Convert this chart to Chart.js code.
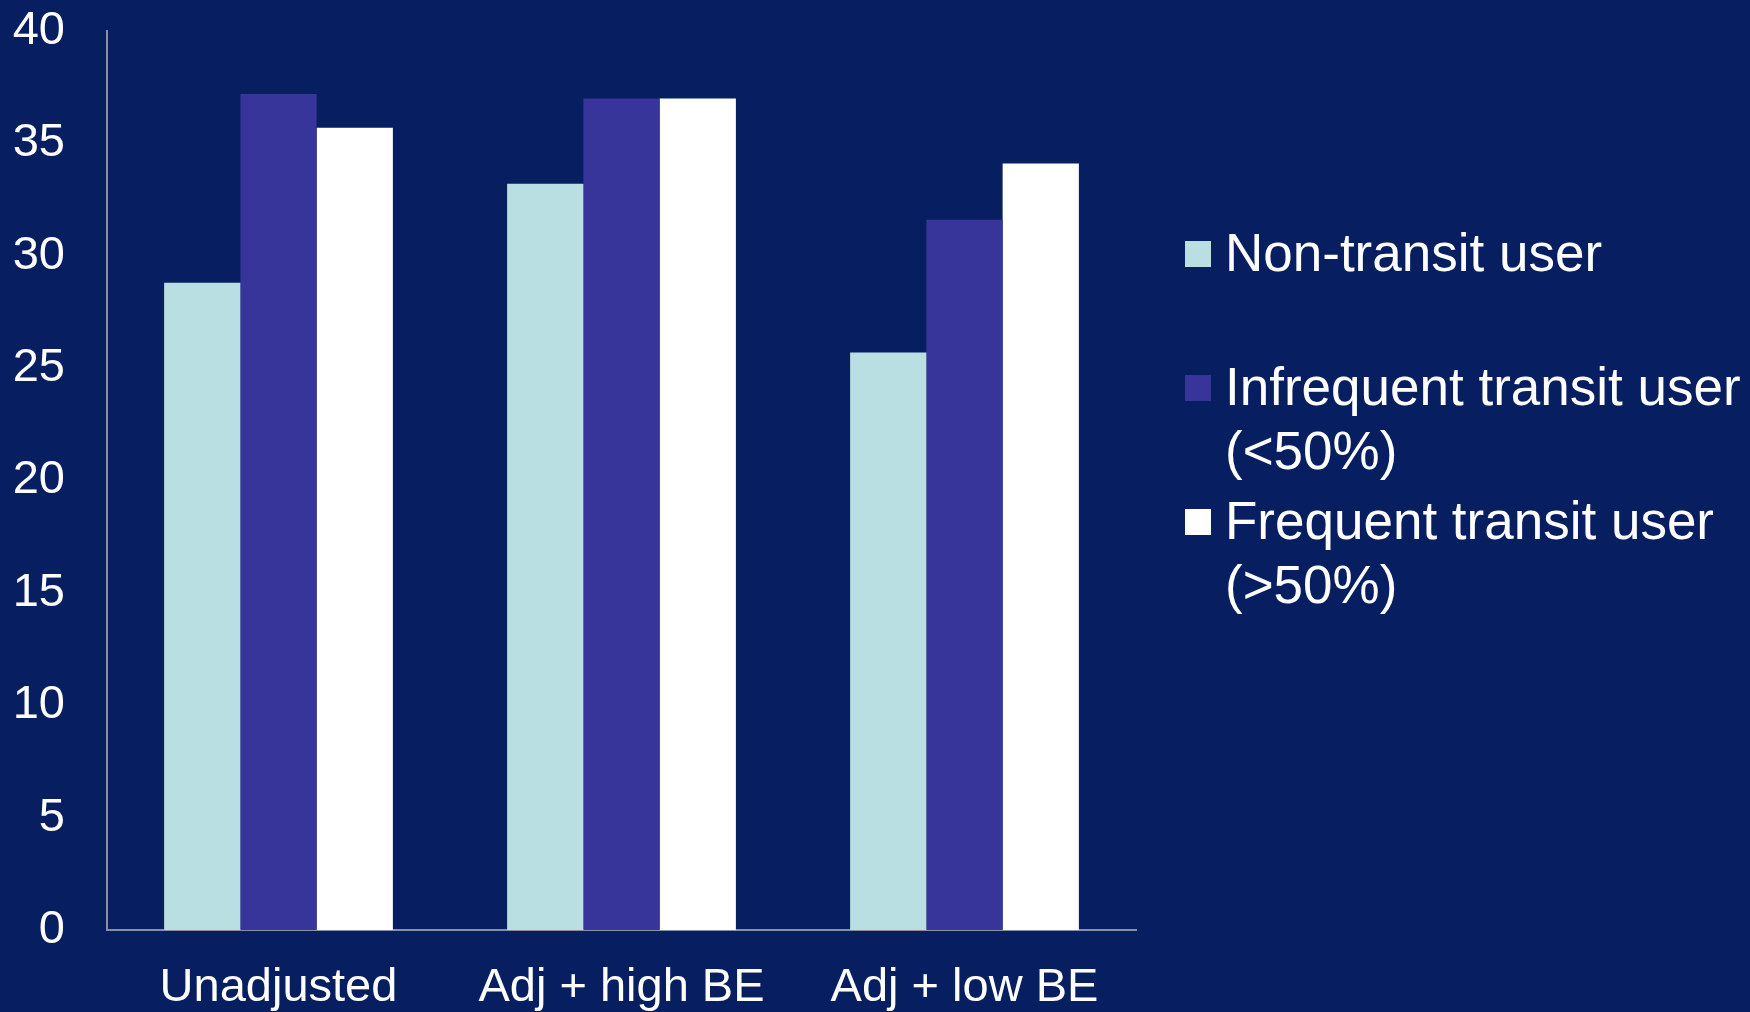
<!DOCTYPE html>
<html>
<head>
<meta charset="utf-8">
<script src="https://cdn.jsdelivr.net/npm/chart.js@4.4.1/dist/chart.umd.min.js"></script>
<style>
  html, body { margin: 0; padding: 0; background: #071f61; }
  #wrap { width: 1750px; height: 1012px; position: relative; }
</style>
</head>
<body>
<div id="wrap"><canvas id="c" width="1750" height="1012"></canvas></div>
<script>
// Categories and series
const categories = ['Unadjusted', 'Adj + high BE', 'Adj + low BE'];
const nonTransit = [28.8, 33.2, 25.7];
const infrequentTransit = [37.2, 37.0, 31.6];
const frequentTransit = [35.7, 37.0, 34.1];
const seriesLabels = [
  ['Non-transit user'],
  ['Infrequent transit user', '(<50%)'],
  ['Frequent transit user', '(>50%)']
];
const yTicks = [0, 5, 10, 15, 20, 25, 30, 35, 40];

const FONT = '"Liberation Sans", Arial, sans-serif';
const colors = ['#b9dfe3', '#37349a', '#ffffff'];

// Legend drawn to the right of the plot, one entry per dataset, wrapped labels
const sideLegend = {
  id: 'sideLegend',
  afterDraw(chart) {
    const ctx = chart.ctx;
    const area = chart.chartArea;
    const x0 = area.right + 49;
    const box = 26;
    const firstY = 254;
    const entryStep = 134;
    const lineH = 64;
    ctx.save();
    ctx.font = '53px ' + FONT;
    ctx.textBaseline = 'middle';
    ctx.textAlign = 'left';
    chart.data.datasets.forEach((ds, i) => {
      const y = firstY + i * entryStep;
      ctx.fillStyle = ds.backgroundColor;
      ctx.fillRect(x0, y - box / 2, box, box);
      ctx.fillStyle = '#ffffff';
      ds.legendLines.forEach((t, j) => {
        ctx.fillText(t, x0 + 40, y + 2 + j * lineH);
      });
    });
    ctx.restore();
  }
};

new Chart(document.getElementById('c'), {
  type: 'bar',
  data: {
    labels: categories,
    datasets: [
      { label: seriesLabels[0].join(' '), legendLines: seriesLabels[0], data: nonTransit, backgroundColor: colors[0] },
      { label: seriesLabels[1].join(' '), legendLines: seriesLabels[1], data: infrequentTransit, backgroundColor: colors[1] },
      { label: seriesLabels[2].join(' '), legendLines: seriesLabels[2], data: frequentTransit, backgroundColor: colors[2] }
    ]
  },
  options: {
    responsive: false,
    animation: false,
    devicePixelRatio: 1,
    layout: { padding: { top: 31, right: 614, left: 0, bottom: 0 } },
    datasets: { bar: { categoryPercentage: 0.667, barPercentage: 1.0, borderWidth: 0 } },
    plugins: {
      legend: { display: false },
      tooltip: { enabled: false }
    },
    scales: {
      x: {
        grid: { display: false, drawTicks: false },
        border: { display: true, color: '#8a8fa3', width: 2 },
        ticks: { color: '#ffffff', font: { family: FONT, size: 47 }, padding: 30, maxRotation: 0 },
        afterFit(s) { s.height = 82; s.paddingLeft = 0; s.paddingRight = 0; }
      },
      y: {
        min: 0,
        max: 40,
        afterBuildTicks(s) { s.ticks = yTicks.map(v => ({ value: v })); },
        grid: { display: false, drawTicks: false },
        border: { display: true, color: '#8a8fa3', width: 2 },
        ticks: { color: '#ffffff', font: { family: FONT, size: 47 }, padding: 42 },
        afterFit(s) { s.width = 107; s.paddingTop = 0; s.paddingBottom = 0; }
      }
    }
  },
  plugins: [sideLegend]
});
</script>
</body>
</html>
